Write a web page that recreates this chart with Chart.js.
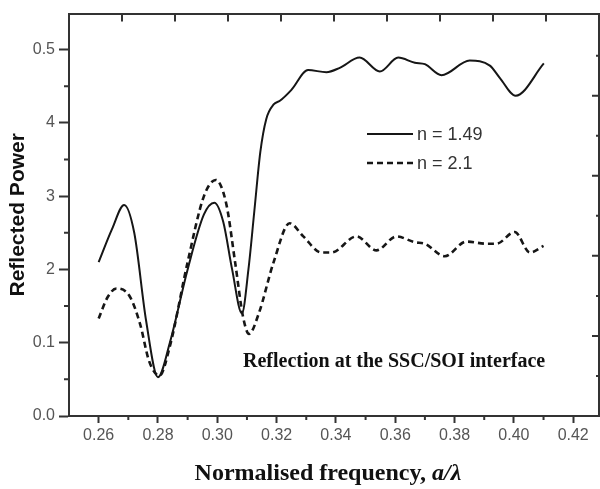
<!DOCTYPE html>
<html>
<head>
<meta charset="utf-8">
<title>Reflected Power</title>
<script src="https://cdn.jsdelivr.net/npm/chart.js@4.4.1/dist/chart.umd.min.js"></script>
<style>
  html, body { margin: 0; padding: 0; background: #fff; }
  #wrap { width: 600px; height: 489px; position: relative; }
</style>
</head>
<body>
<div id="wrap"><canvas id="chart"></canvas></div>
<script>
"use strict";

// ── Data ───────────────────────────────────────────────────────────────────
const freqSolid = [
  0.260, 0.2645, 0.2686, 0.272, 0.276, 0.280, 0.284, 0.290, 0.2955, 0.299,
  0.302, 0.305, 0.3083, 0.3105, 0.3125, 0.3145, 0.3165, 0.319, 0.3211, 0.325,
  0.3306, 0.3368, 0.3413, 0.348, 0.3548, 0.361, 0.3666, 0.370, 0.3756, 0.3851,
  0.3919, 0.3953, 0.4006, 0.4101,
];
const powerSolid = [
  0.210, 0.255, 0.288, 0.250, 0.130, 0.053, 0.100, 0.200, 0.275, 0.291,
  0.265, 0.200, 0.140, 0.200, 0.280, 0.360, 0.405, 0.425, 0.430, 0.445,
  0.472, 0.469, 0.475, 0.489, 0.470, 0.489, 0.482, 0.480, 0.465, 0.485,
  0.478, 0.461, 0.437, 0.481,
];

const freqDashed = [
  0.260, 0.263, 0.266, 0.2705, 0.274, 0.277, 0.2805, 0.284, 0.290, 0.2955,
  0.2995, 0.303, 0.306, 0.3087, 0.3107, 0.314, 0.319, 0.3244, 0.329, 0.3351,
  0.3385, 0.3469, 0.3537, 0.3604, 0.3666, 0.370, 0.3767, 0.384, 0.3908, 0.3941,
  0.4003, 0.4054, 0.410,
];
const powerDashed = [
  0.133, 0.162, 0.174, 0.163, 0.125, 0.075, 0.055, 0.095, 0.210, 0.300,
  0.322, 0.290, 0.210, 0.135, 0.112, 0.140, 0.210, 0.263, 0.245, 0.223,
  0.223, 0.245, 0.226, 0.245, 0.237, 0.235, 0.218, 0.238, 0.235, 0.235,
  0.251, 0.223, 0.232,
];

const seriesLabels = ["n = 1.49", "n = 2.1"];

// tick labels exactly as printed on the figure
const xTickValues = [0.26, 0.28, 0.30, 0.32, 0.34, 0.36, 0.38, 0.40, 0.42];
const xTickLabels = ["0.26", "0.28", "0.30", "0.32", "0.34", "0.36", "0.38", "0.40", "0.42"];
const yTickValues = [0.0, 0.1, 0.2, 0.3, 0.4, 0.5];
const yTickLabels = ["0.0", "0.1", "2", "3", "4", "0.5"];
const xMinorTicks = [0.27, 0.29, 0.31, 0.33, 0.35, 0.37, 0.39, 0.41];
const yMinorTicks = [0.05, 0.15, 0.25, 0.35, 0.45];
const topTicks    = [1, 2, 3, 4, 5, 6, 7, 8, 9];
const rightTicks  = [1, 2, 3, 4, 5, 6, 7, 8, 9];

// ── Style ──────────────────────────────────────────────────────────────────
const AXIS_COLOR = "#333";
const TICK_TEXT  = "#555";
const LINE_COLOR = "#161616";

const pts = (xs, ys) => xs.map((x, i) => ({ x, y: ys[i] }));

function lookup(values, labels, v) {
  const i = values.findIndex((t) => Math.abs(t - v) < 1e-6);
  return i >= 0 ? labels[i] : "";
}

// ── Extras: minor / inward ticks, legend, annotation, x title ─────────────
const extras = {
  id: "extras",
  afterDraw(chart) {
    const { ctx, chartArea: a, scales } = chart;
    const { x, y, x2, y2 } = scales;
    ctx.save();

    ctx.strokeStyle = AXIS_COLOR;
    ctx.lineWidth = 2;
    ctx.beginPath();
    xMinorTicks.forEach((v) => {
      const px = x.getPixelForValue(v);
      ctx.moveTo(px, a.bottom); ctx.lineTo(px, a.bottom + 4);
    });
    yMinorTicks.forEach((v) => {
      const py = y.getPixelForValue(v);
      ctx.moveTo(a.left, py); ctx.lineTo(a.left - 5, py);
    });
    topTicks.forEach((v) => {
      const px = x2.getPixelForValue(v);
      ctx.moveTo(px, a.top); ctx.lineTo(px, a.top + 8);
    });
    rightTicks.forEach((v) => {
      const py = y2.getPixelForValue(v);
      const len = v % 2 === 0 ? 7 : 3;
      ctx.moveTo(a.right, py); ctx.lineTo(a.right - len, py);
    });
    ctx.stroke();

    // legend
    const rows = [134, 163];
    ctx.font = '18px "Liberation Sans", Arial, sans-serif';
    ctx.fillStyle = "#333";
    ctx.textBaseline = "middle";
    chart.data.datasets.forEach((ds, i) => {
      ctx.save();
      ctx.strokeStyle = ds.borderColor;
      ctx.lineWidth = ds.borderWidth;
      ctx.setLineDash(ds.borderDash || []);
      ctx.beginPath();
      ctx.moveTo(367, rows[i]); ctx.lineTo(413, rows[i]);
      ctx.stroke();
      ctx.restore();
      ctx.fillText(ds.label, 417, rows[i] + 1);
    });

    // annotation
    ctx.textBaseline = "alphabetic";
    ctx.fillStyle = "#111";
    ctx.font = 'bold 20px "Liberation Serif", "Times New Roman", serif';
    ctx.fillText("Reflection at the SSC/SOI interface", 243, 367);

    // x-axis title with italic a/λ
    const fA = 'bold 24px "Liberation Serif", "Times New Roman", serif';
    const fB = 'italic bold 24px "Liberation Serif", "Times New Roman", serif';
    const t1 = "Normalised frequency, ", t2 = "a/λ";
    ctx.font = fA; const w1 = ctx.measureText(t1).width;
    ctx.font = fB; const w2 = ctx.measureText(t2).width;
    const sx = 328 - (w1 + w2) / 2;
    ctx.font = fA; ctx.fillText(t1, sx, 480);
    ctx.font = fB; ctx.fillText(t2, sx + w1, 480);

    ctx.restore();
  },
};

// ── Chart ──────────────────────────────────────────────────────────────────
const tickFont = { family: '"Liberation Sans", Arial, sans-serif', size: 16 };

new Chart(document.getElementById("chart"), {
  type: "line",
  data: {
    datasets: [
      {
        label: seriesLabels[0],
        data: pts(freqSolid, powerSolid),
        borderColor: LINE_COLOR,
        borderWidth: 2,
        pointRadius: 0,
        cubicInterpolationMode: "monotone",
      },
      {
        label: seriesLabels[1],
        data: pts(freqDashed, powerDashed),
        borderColor: LINE_COLOR,
        borderWidth: 2.6,
        borderDash: [6, 4],
        pointRadius: 0,
        cubicInterpolationMode: "monotone",
      },
    ],
  },
  options: {
    responsive: true,
    maintainAspectRatio: false,
    animation: false,
    layout: { padding: { top: 8, right: 1, bottom: 0, left: 0 } },
    plugins: { legend: { display: false }, tooltip: { enabled: false } },
    scales: {
      x: {
        type: "linear",
        position: "bottom",
        min: 0.25,
        max: 0.4287,
        afterBuildTicks: (s) => { s.ticks = xTickValues.map((v) => ({ value: v })); },
        afterFit: (s) => { s.height = 73; },
        border: { color: AXIS_COLOR, width: 2 },
        grid: {
          drawOnChartArea: false,
          tickLength: 7,
          tickWidth: 2,
          tickColor: AXIS_COLOR,
        },
        ticks: {
          autoSkip: false,
          maxRotation: 0,
          padding: 3,
          color: TICK_TEXT,
          font: tickFont,
          callback: (v) => lookup(xTickValues, xTickLabels, v),
        },
      },
      y: {
        type: "linear",
        position: "left",
        min: 0,
        max: 0.549,
        afterBuildTicks: (s) => { s.ticks = yTickValues.map((v) => ({ value: v })); },
        afterFit: (s) => { s.width = 69; },
        border: { color: AXIS_COLOR, width: 2 },
        grid: {
          drawOnChartArea: false,
          tickLength: 10,
          tickWidth: 2,
          tickColor: AXIS_COLOR,
        },
        ticks: {
          autoSkip: false,
          padding: 4,
          color: TICK_TEXT,
          font: tickFont,
          callback: (v) => lookup(yTickValues, yTickLabels, v),
        },
        title: {
          display: true,
          text: "Reflected Power",
          color: "#111",
          padding: { top: 6, bottom: 0 },
          font: { family: '"Liberation Sans", Arial, sans-serif', size: 21, weight: "bold" },
        },
      },
      x2: {
        type: "linear",
        position: "top",
        min: 0,
        max: 10,
        afterFit: (s) => { s.height = 0; },
        border: { color: AXIS_COLOR, width: 2 },
        grid: { drawOnChartArea: false, drawTicks: false },
        ticks: { display: false, stepSize: 1 },
      },
      y2: {
        type: "linear",
        position: "right",
        min: 0,
        max: 10.05,
        afterFit: (s) => { s.width = 0; },
        border: { color: AXIS_COLOR, width: 2 },
        grid: { drawOnChartArea: false, drawTicks: false },
        ticks: { display: false, stepSize: 1 },
      },
    },
  },
  plugins: [extras],
});
</script>
</body>
</html>
